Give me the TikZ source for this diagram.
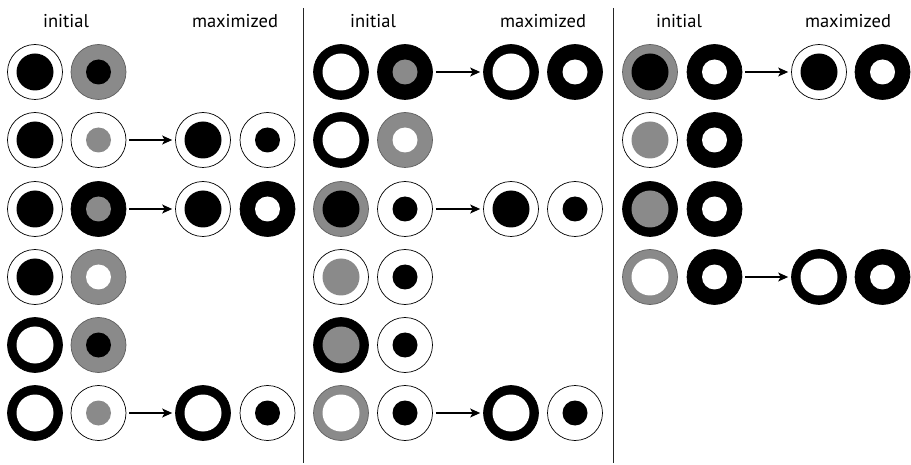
\documentclass[tikz,border=0pt]{standalone}
\usepackage{fontspec}
\setmainfont{PT Sans}
\usetikzlibrary{arrows.meta}
\definecolor{midgray}{RGB}{138,138,138}
\definecolor{edgegray}{RGB}{95,95,95}
\tikzset{
  disc/.style={circle, minimum size=55pt, inner sep=0pt, line width=0.7pt},
  W/.style={disc, draw=black, fill=white},
  G/.style={disc, draw=edgegray, fill=midgray},
  B/.style={disc, draw=black, fill=black},
  bigin/.style={circle, minimum size=37pt, inner sep=0pt},
  smallin/.style={circle, minimum size=25pt, inner sep=0pt},
  bB/.style={bigin, fill=black}, bG/.style={bigin, fill=midgray}, bW/.style={bigin, fill=white},
  sB/.style={smallin, fill=black}, sG/.style={smallin, fill=midgray}, sW/.style={smallin, fill=white},
  arr/.style={-{Stealth[length=10pt,width=9pt,inset=2.5pt]}, line width=1.1pt, shorten <=3pt, shorten >=3pt},
  divider/.style={line width=1pt, black!85},
  lbl/.style={font=\fontsize{18.5}{22}\selectfont, anchor=base, inner sep=0pt}
}
\newcommand{\dsk}[4]{\node[#3] (#1) at #2 {}; \node[#4] (#1i) at #2 {};}
\begin{document}
\begin{tikzpicture}[x=1pt,y=-1pt]
\useasboundingbox (0,0) rectangle (911,465);
% dividers
\coordinate (d1t) at (303,8); \coordinate (d1b) at (303,463);
\coordinate (d2t) at (613,8); \coordinate (d2b) at (613,463);
\draw[divider] (d1t) -- (d1b);
\draw[divider] (d2t) -- (d2b);
% labels
\node[lbl] (l1a) at (66,28) {initial};
\node[lbl] (l1b) at (235,28) {maximized};
\node[lbl] (l2a) at (373,28) {initial};
\node[lbl] (l2b) at (543,28) {maximized};
\node[lbl] (l3a) at (679,28) {initial};
\node[lbl] (l3b) at (848,28) {maximized};
% ---- panel 1
\dsk{a1}{(35,72)}{W}{bB} \dsk{a2}{(98.5,72)}{G}{sB}
\dsk{b1}{(35,140)}{W}{bB} \dsk{b2}{(98.5,140)}{W}{sG}
\dsk{b3}{(203,140)}{W}{bB} \dsk{b4}{(267.5,140)}{W}{sB}
\draw[arr] (b2) -- (b3);
\dsk{c1}{(35,209)}{W}{bB} \dsk{c2}{(98.5,209)}{B}{sG}
\dsk{c3}{(203,209)}{W}{bB} \dsk{c4}{(267.5,209)}{B}{sW}
\draw[arr] (c2) -- (c3);
\dsk{d1}{(35,277)}{W}{bB} \dsk{d2}{(98.5,277)}{G}{sW}
\dsk{e1}{(35,345)}{B}{bW} \dsk{e2}{(98.5,345)}{G}{sB}
\dsk{f1}{(35,413)}{B}{bW} \dsk{f2}{(98.5,413)}{W}{sG}
\dsk{f3}{(203,413)}{B}{bW} \dsk{f4}{(267.5,413)}{W}{sB}
\draw[arr] (f2) -- (f3);
% ---- panel 2
\dsk{g1}{(341,72)}{B}{bW} \dsk{g2}{(405,72)}{B}{sG}
\dsk{g3}{(511,72)}{B}{bW} \dsk{g4}{(575,72)}{B}{sW}
\draw[arr] (g2) -- (g3);
\dsk{h1}{(341,140)}{B}{bW} \dsk{h2}{(405,140)}{G}{sW}
\dsk{i1}{(341,209)}{G}{bB} \dsk{i2}{(405,209)}{W}{sB}
\dsk{i3}{(511,209)}{W}{bB} \dsk{i4}{(575,209)}{W}{sB}
\draw[arr] (i2) -- (i3);
\dsk{j1}{(341,277)}{W}{bG} \dsk{j2}{(405,277)}{W}{sB}
\dsk{k1}{(341,345)}{B}{bG} \dsk{k2}{(405,345)}{W}{sB}
\dsk{m1}{(341,413)}{G}{bW} \dsk{m2}{(405,413)}{W}{sB}
\dsk{m3}{(511,413)}{B}{bW} \dsk{m4}{(575,413)}{W}{sB}
\draw[arr] (m2) -- (m3);
% ---- panel 3
\dsk{n1}{(650,72)}{G}{bB} \dsk{n2}{(714.5,72)}{B}{sW}
\dsk{n3}{(819,72)}{W}{bB} \dsk{n4}{(882.5,72)}{B}{sW}
\draw[arr] (n2) -- (n3);
\dsk{o1}{(650,140)}{W}{bG} \dsk{o2}{(714.5,140)}{B}{sW}
\dsk{q1}{(650,209)}{B}{bG} \dsk{q2}{(714.5,209)}{B}{sW}
\dsk{r1}{(650,277)}{G}{bW} \dsk{r2}{(714.5,277)}{B}{sW}
\dsk{r3}{(819,277)}{B}{bW} \dsk{r4}{(882.5,277)}{B}{sW}
\draw[arr] (r2) -- (r3);
\end{tikzpicture}
\end{document}
